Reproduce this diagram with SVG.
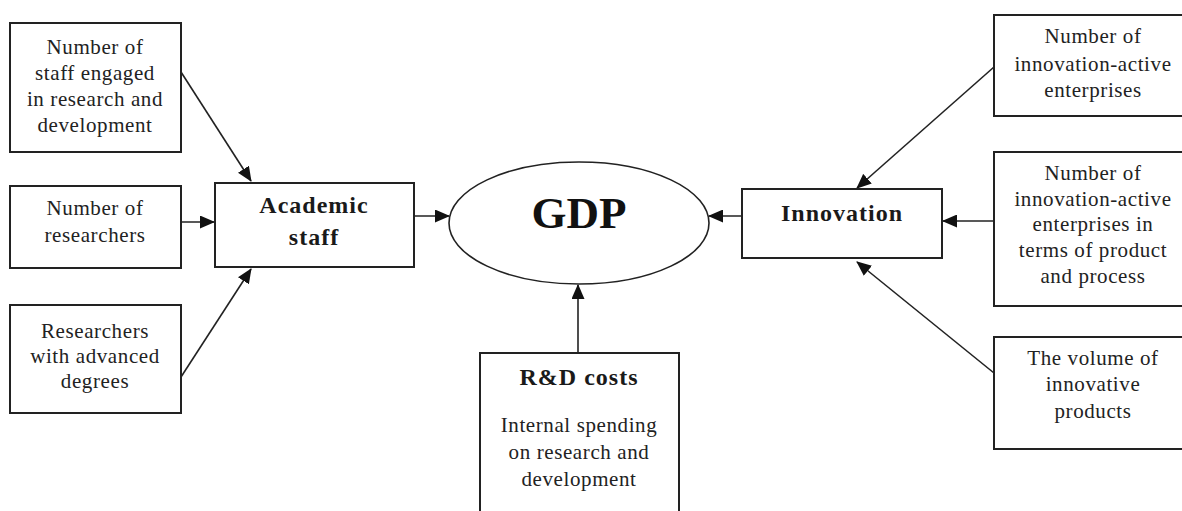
<svg xmlns="http://www.w3.org/2000/svg" width="1182" height="511" viewBox="0 0 1182 511">
<style>
.box{fill:#fff;stroke:#222;stroke-width:2}
.t{font-family:"Liberation Serif","Times New Roman",serif;font-size:21px;letter-spacing:0.6px;fill:#222;text-anchor:middle}
.b{font-family:"Liberation Serif","Times New Roman",serif;font-size:24px;font-weight:bold;letter-spacing:1px;fill:#1a1a1a;text-anchor:middle}
.c{fill:none;stroke:#222;stroke-width:1.6}
</style>
<defs>
<marker id="ah" markerUnits="userSpaceOnUse" markerWidth="15" markerHeight="13" viewBox="0 0 15 13" refX="14" refY="6.5" orient="auto">
<path d="M0,0 L15,6.5 L0,13 Z" fill="#111"/>
</marker>
</defs>
<rect width="1182" height="511" fill="#fff"/>
<g id="connectors">
<line class="c" x1="181" y1="72" x2="251" y2="181" marker-end="url(#ah)"/>
<line class="c" x1="181" y1="222" x2="214" y2="222" marker-end="url(#ah)"/>
<line class="c" x1="181" y1="377" x2="251" y2="269" marker-end="url(#ah)"/>
<line class="c" x1="415" y1="216" x2="449" y2="216" marker-end="url(#ah)"/>
<line class="c" x1="742" y1="216" x2="709" y2="216" marker-end="url(#ah)"/>
<line class="c" x1="578" y1="353" x2="578" y2="285" marker-end="url(#ah)"/>
<line class="c" x1="994" y1="67" x2="857" y2="188" marker-end="url(#ah)"/>
<line class="c" x1="994" y1="221" x2="943" y2="221" marker-end="url(#ah)"/>
<line class="c" x1="994" y1="373" x2="857" y2="262" marker-end="url(#ah)"/>
</g>
<g id="staff-rd">
<rect class="box" x="10" y="23" width="171" height="129"/>
<text class="t" x="95" y="54">Number of</text>
<text class="t" x="95" y="80">staff engaged</text>
<text class="t" x="95" y="106">in research and</text>
<text class="t" x="95" y="132">development</text>
</g>
<g id="researchers">
<rect class="box" x="10" y="186" width="171" height="82"/>
<text class="t" x="95" y="215">Number of</text>
<text class="t" x="95" y="242">researchers</text>
</g>
<g id="advanced">
<rect class="box" x="10" y="305" width="171" height="108"/>
<text class="t" x="95" y="338">Researchers</text>
<text class="t" x="95" y="363">with advanced</text>
<text class="t" x="95" y="388">degrees</text>
</g>
<g id="academic">
<rect class="box" x="215" y="183" width="199" height="84"/>
<text class="b" x="314" y="213">Academic</text>
<text class="b" x="314" y="245">staff</text>
</g>
<g id="gdp">
<ellipse cx="579" cy="223" rx="130" ry="61" fill="#fff" stroke="#222" stroke-width="1.6"/>
<text x="579" y="228" font-family="Liberation Serif, Times New Roman, serif" font-size="45" font-weight="bold" fill="#111" text-anchor="middle">GDP</text>
</g>
<g id="rdcosts">
<path class="box" d="M480,520 V353 H679 V520"/>
<text class="b" x="579" y="385">R&amp;D costs</text>
<text class="t" x="579" y="432">Internal spending</text>
<text class="t" x="579" y="459">on research and</text>
<text class="t" x="579" y="486">development</text>
</g>
<g id="innovation">
<rect class="box" x="742" y="189" width="200" height="69"/>
<text class="b" x="842" y="221">Innovation</text>
</g>
<g id="enterprises">
<rect class="box" x="994" y="15" width="200" height="101"/>
<text class="t" x="1093" y="43">Number of</text>
<text class="t" x="1093" y="71">innovation-active</text>
<text class="t" x="1093" y="97">enterprises</text>
</g>
<g id="enterprises-pp">
<rect class="box" x="994" y="152" width="200" height="154"/>
<text class="t" x="1093" y="180">Number of</text>
<text class="t" x="1093" y="206">innovation-active</text>
<text class="t" x="1093" y="231">enterprises in</text>
<text class="t" x="1093" y="257">terms of product</text>
<text class="t" x="1093" y="283">and process</text>
</g>
<g id="volume">
<rect class="box" x="994" y="337" width="200" height="112"/>
<text class="t" x="1093" y="365">The volume of</text>
<text class="t" x="1093" y="391">innovative</text>
<text class="t" x="1093" y="418">products</text>
</g>
</svg>
